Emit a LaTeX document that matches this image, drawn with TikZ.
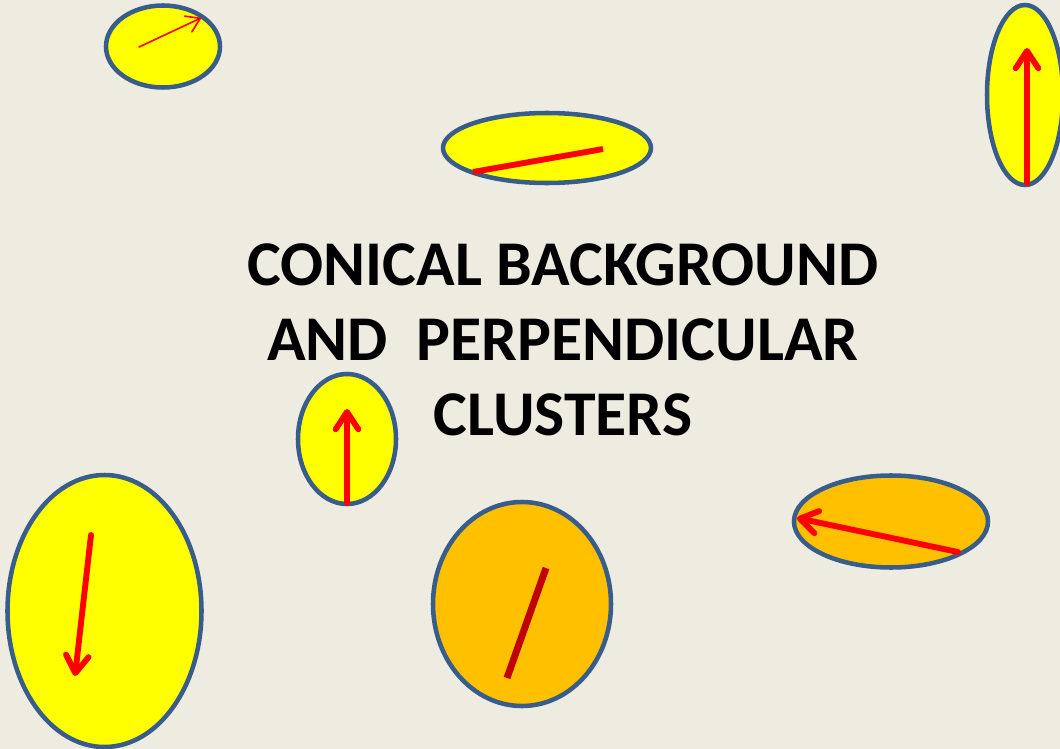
\documentclass[tikz,border=0pt]{standalone}
\usepackage{fontspec}
\setmainfont{Carlito}
\usetikzlibrary{arrows.meta}
\definecolor{paper}{HTML}{EEECE1}
\definecolor{rim}{HTML}{385D8A}
\definecolor{lemon}{HTML}{FFFF00}
\definecolor{amber}{HTML}{FFC000}
\definecolor{vecred}{HTML}{FF0000}
\definecolor{darkred}{HTML}{C00000}

\begin{document}
\begin{tikzpicture}[x=0.75pt,y=-0.75pt,
 every node/.style={align=center},
 cell/.style={draw=rim,line width=3.4pt},
 spin/.style={draw=vecred,line width=4.4pt,line cap=round,
  -{Straight Barb[round,length=13pt,width=17pt]}},
 thinspin/.style={draw=vecred,line width=1.2pt,line cap=round,
  -{Straight Barb[round,length=10pt,width=13pt]}},
 rod/.style={line width=4.4pt}]
\fill[paper] (0,0) rectangle (1060,749);
\useasboundingbox (0,0) rectangle (1060,749);

% clusters
\draw[cell,fill=lemon] (163,46.5) ellipse [x radius=57,y radius=41];
\draw[cell,fill=lemon] (1025,95) ellipse [x radius=38,y radius=90];
\draw[cell,fill=lemon] (547,148) ellipse [x radius=104,y radius=35];
\draw[cell,fill=lemon] (347,439) ellipse [x radius=49,y radius=65];
\draw[cell,fill=lemon] (104.5,611) ellipse [x radius=97,y radius=136];
\draw[cell,fill=amber] (522,604) ellipse [x radius=89,y radius=102];
\draw[cell,fill=amber] (891,521.5) ellipse [x radius=97,y radius=46];

% directions
\draw[thinspin] (139,47) -- (201,18);
\draw[spin] (1027,183) -- (1027,48);
\draw[rod,vecred] (473,172) -- (603,149);
\draw[spin] (347,503) -- (347,409);
\draw[spin] (91,535) -- (75,676);
\draw[rod,darkred,line width=5.2pt] (507,678) -- (546,568);
\draw[spin] (958,552) -- (797,518);

\node[inner sep=0pt,font=\bfseries\fontsize{47.8pt}{56.3pt}\selectfont] (title) at (563,340)
 {CONICAL BACKGROUND\\AND~~PERPENDICULAR\\CLUSTERS};
\end{tikzpicture}
\end{document}
